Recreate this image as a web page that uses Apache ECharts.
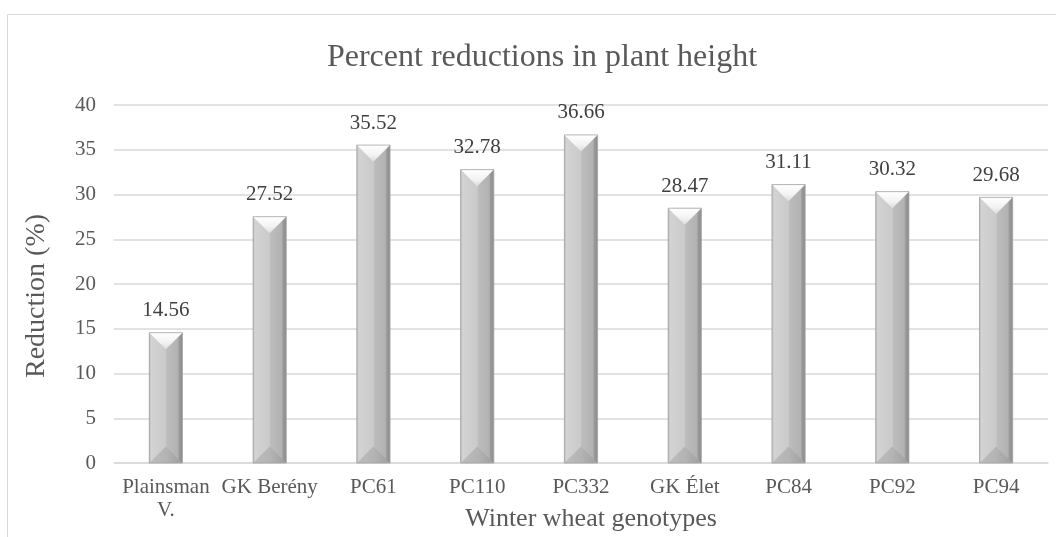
<!DOCTYPE html>
<html>
<head>
<meta charset="utf-8">
<script src="https://cdn.jsdelivr.net/npm/echarts@6/dist/echarts.min.js"></script>
<style>
html,body{margin:0;padding:0;background:#fff;}
#chart{width:1056px;height:537px;}
</style>
</head>
<body>
<div id="chart"></div>
<script>
const categories = ['Plainsman V.', 'GK Berény', 'PC61', 'PC110', 'PC332', 'GK Élet', 'PC84', 'PC92', 'PC94'];
const reductions = [14.56, 27.52, 35.52, 32.78, 36.66, 28.47, 31.11, 30.32, 29.68];
const yTicks = { min: 0, max: 40, interval: 5 };

const FONT = "'Liberation Serif', 'Times New Roman', serif";
const TXT = '#595959';

const chart = echarts.init(document.getElementById('chart'));

function renderBevelBar(params, api) {
  const idx = api.value(0);
  const val = api.value(1);
  const top = api.coord([idx, val]);
  const base = api.coord([idx, 0]);
  const w = api.size([1, 0])[0] * 0.32;
  const cx = top[0], x0 = cx - w / 2, x1 = cx + w / 2;
  const yt = top[1], yb = base[1];
  const d = Math.min(w / 2, (yb - yt) / 2);
  const lin = (x, y, x2, y2, stops) => new echarts.graphic.LinearGradient(x, y, x2, y2, stops);
  return {
    type: 'group',
    children: [
      { type: 'rect', shape: { x: x0, y: yt, width: w, height: yb - yt },
        style: { fill: lin(0, 0, 1, 0, [
          { offset: 0, color: '#a9a9a9' }, { offset: 0.06, color: '#cfcfcf' },
          { offset: 0.5, color: '#cbcbcb' }, { offset: 0.52, color: '#bdbdbd' },
          { offset: 0.86, color: '#b2b2b2' }, { offset: 0.9, color: '#9a9a9a' },
          { offset: 1, color: '#8c8c8c' }]) } },
      { type: 'polygon', shape: { points: [[x0, yt], [cx, yt + d], [cx, yb - d], [x0, yb]] },
        style: { fill: lin(0, 0, 1, 0, [
          { offset: 0, color: '#bcbcbc' }, { offset: 0.12, color: '#d3d3d3' }, { offset: 1, color: '#cacaca' }]) } },
      { type: 'polygon', shape: { points: [[x0, yt], [x1, yt], [cx, yt + d]] },
        style: { fill: lin(0, 0, 0, 1, [
          { offset: 0, color: '#ffffff' }, { offset: 0.6, color: '#f2f2f2' }, { offset: 1, color: '#dcdcdc' }]) } },
      { type: 'polygon', shape: { points: [[x0, yb], [x1, yb], [cx, yb - d]] },
        style: { fill: lin(0, 0, 1, 0, [
          { offset: 0, color: '#bdbdbd' }, { offset: 0.5, color: '#b4b4b4' }, { offset: 1, color: '#9e9e9e' }]) } },
      { type: 'rect', shape: { x: x0, y: yt, width: w, height: yb - yt },
        style: { fill: 'none', stroke: '#a4a4a4', lineWidth: 0.8 } },
      { type: 'text', style: { text: val.toFixed(2), x: cx, y: yt - 22, align: 'center', verticalAlign: 'middle',
        font: '21px ' + FONT, fill: '#404040' } }
    ]
  };
}

chart.setOption({
  animation: false,
  backgroundColor: '#fff',
  title: {
    text: 'Percent reductions in plant height',
    left: 537, top: 37, textAlign: 'center',
    textStyle: { fontFamily: FONT, fontSize: 32, fontWeight: 'normal', color: TXT }
  },
  graphic: [
    { type: 'rect', shape: { x: 7.5, y: 14.5, width: 1200, height: 700 },
      style: { fill: 'none', stroke: '#d9d9d9', lineWidth: 1 }, z: -10 },
    { type: 'text', x: 591, y: 519, style: { text: 'Winter wheat genotypes', align: 'center', verticalAlign: 'middle',
      font: '26px ' + FONT, fill: TXT } },
    { type: 'text', x: 37, y: 296, rotation: Math.PI / 2, style: { text: 'Reduction (%)', align: 'center', verticalAlign: 'middle',
      font: '28px ' + FONT, fill: TXT } }
  ],
  grid: { left: 114, right: 8, top: 105, bottom: 74, containLabel: false },
  xAxis: {
    type: 'category', data: categories,
    axisLine: { lineStyle: { color: '#d9d9d9', width: 1.5 } },
    axisTick: { show: false },
    axisLabel: { fontFamily: FONT, fontSize: 21, color: TXT, margin: 13, lineHeight: 23, interval: 0,
      formatter: v => v === 'Plainsman V.' ? 'Plainsman\nV.' : v }
  },
  yAxis: {
    type: 'value', min: yTicks.min, max: yTicks.max, interval: yTicks.interval,
    axisLine: { show: false }, axisTick: { show: false },
    axisLabel: { fontFamily: FONT, fontSize: 21, color: TXT, margin: 18 },
    splitLine: { lineStyle: { color: '#d9d9d9', width: 1.5 } }
  },
  series: [{
    type: 'custom',
    renderItem: renderBevelBar,
    encode: { x: 0, y: 1 },
    data: reductions.map((v, i) => [i, v]),
    clip: false
  }]
});
</script>
</body>
</html>
